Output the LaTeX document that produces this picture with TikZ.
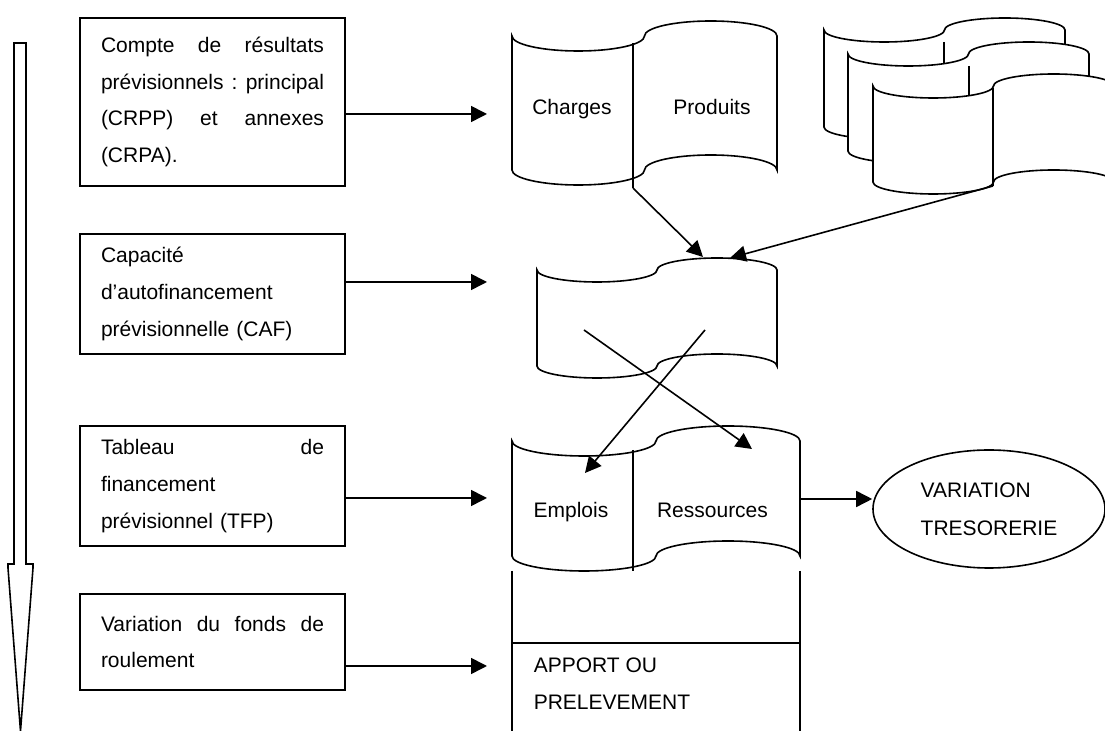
\documentclass[tikz,border=0pt]{standalone}
\usepackage{fontspec}
\setmainfont{Liberation Sans}
\usetikzlibrary{arrows.meta}
\usetikzlibrary{shapes.geometric}

\newlength{\boxtextwidth}
\setlength{\boxtextwidth}{111.5pt}
\newcommand{\jline}[1]{\makebox[\boxtextwidth][l]{#1}}
\newcommand{\tapeshape}[5]{%
  \draw[fill=white] (#1, #2)
    arc[start angle=180, end angle=0, x radius=#3/4, y radius=#5]
    arc[start angle=180, end angle=360, x radius=#3/4, y radius=#5]
    -- ({#1+#3}, #4)
    arc[start angle=0, end angle=-180, x radius=#3/4, y radius=#5]
    arc[start angle=0, end angle=180, x radius=#3/4, y radius=#5]
    -- cycle;}

\begin{document}
\begin{tikzpicture}[x=0.5pt, y=-0.5pt, line width=0.8pt,
  font=\fontsize{10.5}{18.3}\selectfont,
  stepbox/.style={draw, inner sep=0pt, text width=\boxtextwidth, minimum width=132.5pt, align=left},
  tapetext/.style={inner sep=0pt, anchor=base},
  flow/.style={-{Triangle[length=8pt, width=8pt]}}]

\useasboundingbox (0, 0) rectangle (1105, 731);

\draw (14, 43) -- (26, 43) -- (26, 564) -- (33, 564) -- (33, 568) -- (20.5, 731)
  -- (8, 568) -- (8, 564) -- (14, 564) -- cycle;

\node[stepbox, minimum height=84pt] (crp) at (212.5, 102)
  {\jline{Compte\hfill de\hfill résultats}\\ \jline{prévisionnels\hfill:\hfill principal}\\
   \jline{(CRPP)\hfill et\hfill annexes}\\ (CRPA).};
\node[stepbox, minimum height=60pt] (caf) at (212.5, 294)
  {Capacité\\ d’autofinancement\\ prévisionnelle (CAF)};
\node[stepbox, minimum height=60pt] (tfp) at (212.5, 486)
  {\jline{Tableau\hfill de}\\ financement\\ prévisionnel (TFP)};
\node[stepbox, minimum height=48pt] (vfr) at (212.5, 642)
  {\jline{Variation\hfill du\hfill fonds\hfill de}\\ roulement};

\tapeshape{512}{36}{265}{170}{15}
\draw (633, 43) -- (633, 188);
\node[tapetext] (charges) at (572, 115) {Charges};
\node[tapetext] (produits) at (712, 115) {Produits};

\tapeshape{824}{30}{241}{127}{12}
\draw (944, 42) -- (944, 139);
\tapeshape{848}{54}{241}{151}{12}
\draw (969, 66) -- (969, 163);
\tapeshape{873}{86}{241}{182}{12}
\draw (993, 88) -- (993, 186);

\tapeshape{537}{270}{240}{366}{12}

\tapeshape{512}{441}{288}{556}{15}
\draw (633, 450) -- (633, 571);
\node[tapetext] (emplois) at (571, 518) {Emplois};
\node[tapetext] (ressources) at (712.5, 518) {Ressources};

\draw (512, 571) -- (512, 731);
\draw (800, 571) -- (800, 731);
\draw (512, 643) -- (800, 643);
\node[inner sep=0pt, anchor=west, align=left, font=\fontsize{10.5}{18.5}\selectfont] (apport)
  at (533, 683.5) {APPORT OU\\PRELEVEMENT};

\node[draw, ellipse, inner sep=0pt, minimum width=116pt, minimum height=59pt, align=left,
  font=\fontsize{10.5}{19}\selectfont] (vartreso) at (989, 509) {VARIATION\\TRESORERIE};

\coordinate (crpIn) at (487, 114);
\coordinate (cafIn) at (487, 282);
\coordinate (tfpIn) at (487, 498);
\coordinate (vfrIn) at (487, 666);
\draw[flow] (crp.east |- crpIn) -- (crpIn);
\draw[flow] (caf.east |- cafIn) -- (cafIn);
\draw[flow] (tfp.east |- tfpIn) -- (tfpIn);
\draw[flow] (vfr.east |- vfrIn) -- (vfrIn);

\coordinate (chargesFoot) at (633, 188);
\coordinate (annexFoot) at (993, 186);
\coordinate (cafTopL) at (703, 257);
\coordinate (cafTopR) at (730, 258);
\draw[flow] (chargesFoot) -- (cafTopL);
\draw[flow] (annexFoot) -- (cafTopR);

\coordinate (cafMidL) at (584, 330);
\coordinate (cafMidR) at (705, 330);
\coordinate (emploisTop) at (585, 473);
\coordinate (ressourcesTop) at (752, 449);
\draw[flow] (cafMidL) -- (ressourcesTop);
\draw[flow] (cafMidR) -- (emploisTop);

\coordinate (tfpOut) at (800, 499);
\draw[flow] (tfpOut) -- (tfpOut -| vartreso.west);

\end{tikzpicture}
\end{document}
